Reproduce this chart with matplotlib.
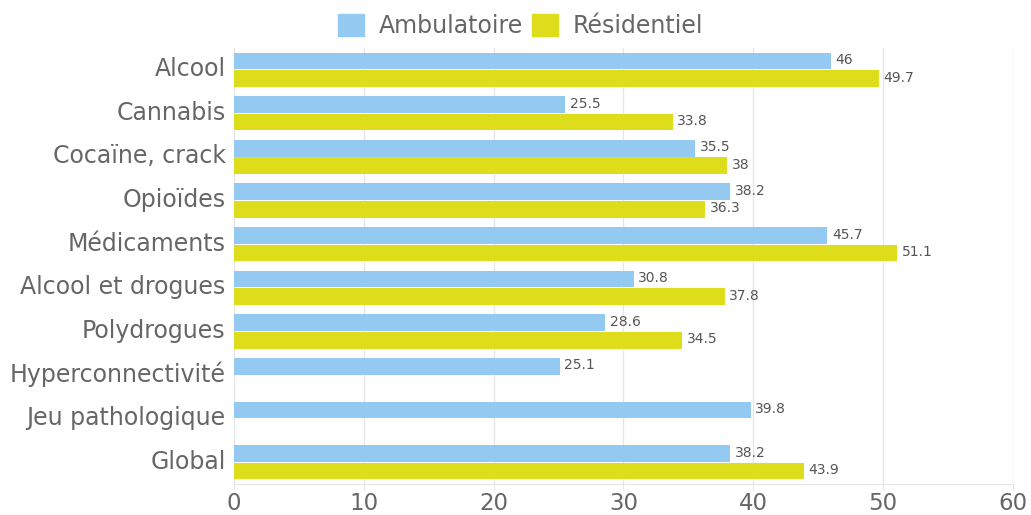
import matplotlib
matplotlib.use("Agg")
import matplotlib.pyplot as plt
import matplotlib.transforms as mtransforms
import numpy as np

categories = ["Alcool", "Cannabis", "Cocaïne, crack", "Opioïdes", "Médicaments",
              "Alcool et drogues", "Polydrogues", "Hyperconnectivité",
              "Jeu pathologique", "Global"]
ambulatoire = [46, 25.5, 35.5, 38.2, 45.7, 30.8, 28.6, 25.1, 39.8, 38.2]
residentiel = [49.7, 33.8, 38, 36.3, 51.1, 37.8, 34.5, None, None, 43.9]
xticks = [0, 10, 20, 30, 40, 50, 60]

c_amb = "#94caf2"
c_res = "#dddd1c"
txt = "#666666"

fig = plt.figure(figsize=(10.31, 5.15), dpi=100)
ax = fig.add_axes([0.227, 0.060, 0.7555, 0.847])

y = np.arange(len(categories))
h = 0.385
off = 0.2
for i, (a, r) in enumerate(zip(ambulatoire, residentiel)):
    if a is not None:
        ax.barh(y[i] - off, a, height=h, color=c_amb, zorder=3)
        ax.text(a + 0.35, y[i] - off - 0.02, f"{a:g}", va="center", ha="left", fontsize=10, color="#555555")
    if r is not None:
        ax.barh(y[i] + off, r, height=h, color=c_res, zorder=3)
        ax.text(r + 0.35, y[i] + off - 0.02, f"{r:g}", va="center", ha="left", fontsize=10, color="#555555")

ax.set_ylim(len(categories) - 0.5, -0.5)
ax.set_xlim(0, 60)
ax.set_yticks(y)
ax.set_yticklabels(categories, fontsize=17, color=txt)
ax.set_xticks(xticks)
ax.set_xticklabels([str(t) for t in xticks], fontsize=16.5, color=txt)
ax.tick_params(axis="y", length=0, pad=6)
ax.tick_params(axis="x", length=4, color="#e6e6e6", pad=2)
shift = mtransforms.ScaledTranslation(0, 3 / 100, fig.dpi_scale_trans)
for lab in ax.get_yticklabels():
    lab.set_transform(lab.get_transform() + shift)
ax.grid(axis="x", color="#e6e6e6", linewidth=1, zorder=0)
for s in ["top", "right"]:
    ax.spines[s].set_visible(False)
ax.spines["left"].set_color("#e6e6e6")
ax.spines["bottom"].set_color("#e6e6e6")

from matplotlib.patches import Patch
handles = [Patch(color=c_amb, label="Ambulatoire"), Patch(color=c_res, label="Résidentiel")]
leg = fig.legend(handles=handles, loc="upper center", bbox_to_anchor=(0.505, 1.015), ncol=2,
                 frameon=False, fontsize=17, handlelength=1.1, handleheight=1.1,
                 columnspacing=0.4, handletextpad=0.6)
for t in leg.get_texts():
    t.set_color(txt)

fig.savefig("out.png", dpi=100)
